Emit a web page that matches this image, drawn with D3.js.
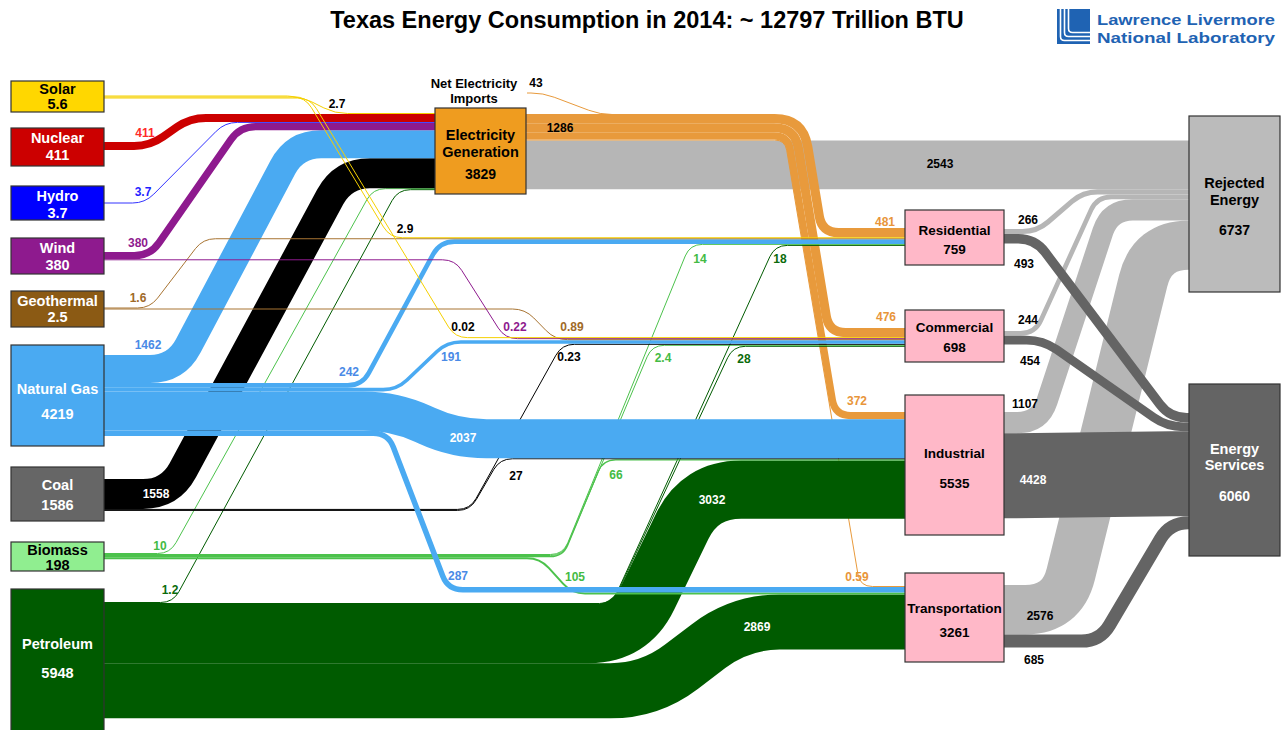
<!DOCTYPE html>
<html>
<head>
<meta charset="utf-8">
<script src="https://cdn.jsdelivr.net/npm/d3@7"></script>
<style>
body { margin: 0; background: #fff; }
text { font-family: Arial, "Liberation Sans", sans-serif; font-weight: bold; }
</style>
</head>
<body>
<svg id="chart" width="1286" height="730"></svg>
<script>
// ---- values, trillion BTU ----
var sources = ["Solar", "Nuclear", "Hydro", "Wind", "Geothermal", "Natural Gas", "Coal", "Biomass", "Petroleum"];
var sourceTotals = [5.6, 411, 3.7, 380, 2.5, 4219, 1586, 198, 5948];
var sectors = ["Residential", "Commercial", "Industrial", "Transportation"];
var sectorTotals = [759, 698, 5535, 3261];
var toElectricity = [2.7, 411, 3.7, 380, 0, 1462, 1558, 10, 1.2];
var toResidential = [2.9, 0, 0, 0, 1.6, 242, 0, 14, 18];
var toCommercial = [0.02, 0, 0, 0.22, 0.89, 191, 0.23, 2.4, 28];
var toIndustrial = [0, 0, 0, 0, 0, 2037, 27, 66, 3032];
var toTransportation = [0, 0, 0, 0, 0, 287, 0, 105, 2869];
var electricityTotal = 3829, electricityDelivered = 1286, netImports = 43;
var electricityToSectors = [481, 476, 372, 0.59];
var electricityRejected = 2543;
var sectorRejected = [266, 244, 1107, 2576];
var sectorServices = [493, 454, 4428, 685];
var rejectedTotal = 6737, servicesTotal = 6060;
var title = "Texas Energy Consumption in 2014: ~ 12797 Trillion BTU";

// ---- layout (hand placed like the LLNL charts) ----
var thick = d3.scaleLinear().domain([0, 1000]).range([0, 19.2]);
function band(v) { return Math.max(thick(v), 1); }

var srcX = 11, srcW = 93;
var srcTop = [81, 128, 186, 238, 291, 345, 467, 542, 589];
var srcH = [31, 38, 34, 36, 36, 101, 54, 29, 150];
var srcFlowTop = [95.5, 142, 202.5, 252, 307.5, 355, 479, 553, 602];
var srcTextY = [[89, 104], [138, 155], [196, 213], [248, 265], [301, 317], [389, 414], [485, 505], [550, 565], [644, 673]];
var srcFill = ["#ffd700", "#cc0000", "#0000ff", "#8e1a8e", "#8b5a14", "#4aaaf2", "#666666", "#90ee90", "#005b00"];
var srcFlow = ["#f5d000", "#cc0000", "#3333ff", "#8e1a8e", "#a87432", "#4aaaf2", "#000000", "#4cc24c", "#005b00"];
var srcText = ["#000", "#fff", "#fff", "#fff", "#fff", "#fff", "#fff", "#000", "#fff"];
var srcLabel = ["#000", "#ff2a2a", "#1f1fff", "#8e1a8e", "#a06a28", "#4a8ae6", "#000", "#44bb44", "#0b6b0b"];
var srcLayer = [11, 10, 9, 8, 7, 6, 5, 4, 3];

var elecBox = { x: 435, y: 108, w: 91, h: 86, inTop: 113, outTop: 114 };
var secX = 905, secW = 99;
var secTop = [210, 310, 395, 573], secH = [55, 52, 140, 89];
var secInTop = [228, 328, 412, 586], secOutTop = [229, 331, 412, 585];
var secTextY = [[230, 249], [327, 347], [453, 483], [608, 632]];
var rejBox = { x: 1189, y: 116, w: 91, h: 176 };
var servBox = { x: 1189, y: 384, w: 91, h: 172, inTop: 413 };

// bend x positions [leave horizontal, reach horizontal]
var routeToElec = [[300, 335], [150, 190], [145, 225], [150, 240], null, [176, 295], [170, 343], [170, 373], [173, 398]];
var routeToRes = [[305, 390], null, null, null, [150, 203], [362, 440], null, [563, 690], [612, 775]];
var routeToCom = [[310, 455], null, null, [455, 505], [525, 555], [397, 447], [470, 562], [563, 652], [612, 733]];
var routeToInd = [null, null, null, null, null, [395, 455], [470, 500], [563, 603], [630, 700]];
var routeToTrans = [null, null, null, null, null, [388, 448], null, [540, 572], [650, 740]];
var routeElecOut = [[803, 822], [795, 829], [788, 835], [785, 860]];
var routeRejected = [[1037, 1083], [1035, 1097], [1040, 1110], [1062, 1152]];
var routeServices = [[1035, 1170], [1043, 1167], [1010, 1180], [1100, 1170]];

var labElec = [[337, 104], [145, 133], [143, 192], [138, 243], null, [148, 345], [156, 494], [160, 546], [170, 590]];
var labRes = [[405, 229], null, null, null, [138, 298], [349, 372], null, [700, 259], [780, 259]];
var labCom = [[463, 327], null, null, [515, 327], [572, 327], [451, 357], [569, 357], [663, 358], [744, 359]];
var labInd = [null, null, null, null, null, [463, 438], [516, 476], [616, 475], [712, 500]];
var labTrans = [null, null, null, null, null, [458, 576], null, [575, 577], [757, 627]];
var labElecOut = [[885, 222], [886, 317], [857, 401], [857, 577]];
var labRej = [[1028, 220], [1028, 320], [1025, 404], [1040, 616]];
var labServ = [[1024, 264], [1030, 361], [1033, 480], [1034, 660]];

var elecFill = "#ef9c1f", elecFlow = "#e89a3c", elecLabel = "#e8953a";
var secFill = "#ffb8c8", rejFill = "#bbbbbb", rejFlow = "#b6b6b6", servFill = "#646464", servFlow = "#646464";

var svg = d3.select("#chart");
svg.append("rect").attr("width", 1286).attr("height", 730).attr("fill", "#fff");

// polyline with rounded corners; r is one radius or one per corner
function linkPath(pts, r) {
  var p = d3.path();
  p.moveTo(pts[0][0], pts[0][1]);
  for (var i = 1; i < pts.length - 1; i++) {
    var a = pts[i - 1], c = pts[i], b = pts[i + 1];
    var l1 = Math.hypot(c[0] - a[0], c[1] - a[1]);
    var l2 = Math.hypot(b[0] - c[0], b[1] - c[1]);
    if (l1 < 0.5 || l2 < 0.5) { p.lineTo(c[0], c[1]); continue; }
    var ri = Array.isArray(r) ? r[i - 1] : r;
    var rr = Math.min(ri, i === 1 ? l1 : l1 / 2, i === pts.length - 2 ? l2 : l2 / 2);
    p.lineTo(c[0] - (c[0] - a[0]) / l1 * rr, c[1] - (c[1] - a[1]) / l1 * rr);
    p.quadraticCurveTo(c[0], c[1], c[0] + (b[0] - c[0]) / l2 * rr, c[1] + (b[1] - c[1]) / l2 * rr);
  }
  var e = pts[pts.length - 1];
  p.lineTo(e[0], e[1]);
  return p.toString();
}

var links = [];
function addLink(layer, value, color, x0, y0, x1, y1, route, lab, labColor, radii) {
  var pts = [[x0, y0], [route[0], y0], [route[1], y1], [x1, y1]];
  var t = band(value);
  links.push({ layer: layer, value: value, color: color, pts: pts, lab: lab, labColor: labColor, t: t,
    r: radii || t / 2 + 12 });
}

// stacking at the source side
var matrix = [toElectricity, toResidential, toCommercial, toIndustrial, toTransportation];
var routes = [routeToElec, routeToRes, routeToCom, routeToInd, routeToTrans];
var labs = [labElec, labRes, labCom, labInd, labTrans];
var srcY = matrix.map(function () { return []; });
var dstY = matrix.map(function () { return []; });
sources.forEach(function (s, i) {
  var c = srcFlowTop[i];
  matrix.forEach(function (row, d) {
    if (row[i] > 0) { var t = band(row[i]); srcY[d][i] = c + t / 2; c += t; }
  });
});
var ce = elecBox.inTop;
sources.forEach(function (s, i) {
  if (toElectricity[i] > 0) { var t = band(toElectricity[i]); dstY[0][i] = ce + t / 2; ce += t; }
});
var elecOutY = [], co = elecBox.outTop;
electricityToSectors.forEach(function (v, j) { var t = band(v); elecOutY[j] = co + t / 2; co += t; });
var rejTop = co;
var elecRejY = co + band(electricityRejected) / 2;
var elecInY = [];
sectors.forEach(function (s, j) {
  var c = secInTop[j];
  var t = band(electricityToSectors[j]); elecInY[j] = c + t / 2; c += t;
  sources.forEach(function (s2, i) {
    var v = matrix[j + 1][i];
    if (v > 0) { var t2 = band(v); dstY[j + 1][i] = c + t2 / 2; c += t2; }
  });
});
var rejOutY = [], servOutY = [], rejInY = [], servInY = [];
var cr = rejTop + band(electricityRejected), cs = servBox.inTop;
sectors.forEach(function (s, j) {
  var t1 = band(sectorRejected[j]), t2 = band(sectorServices[j]);
  rejOutY[j] = secOutTop[j] + t1 / 2;
  servOutY[j] = secOutTop[j] + t1 + t2 / 2;
  rejInY[j] = cr + t1 / 2; cr += t1;
  servInY[j] = cs + t2 / 2; cs += t2;
});

// electricity generation outputs
var ex = elecBox.x + elecBox.w;
addLink(0, electricityRejected, rejFlow, ex, elecRejY, rejBox.x, elecRejY, [700, 700], [940, 164], "#000");
electricityToSectors.forEach(function (v, j) {
  // nested first bend: outer bands get a wider radius so the bundle stays together
  var offset = rejTop - elecOutY[j];
  var t = band(v);
  addLink(1, v, elecFlow, ex, elecOutY[j], secX, elecInY[j], routeElecOut[j], labElecOut[j], elecLabel,
    [10 + 0.84 * offset, t / 2 + 12]);
});
// sources into electricity and end-use sectors
matrix.forEach(function (row, d) {
  row.forEach(function (v, i) {
    if (!(v > 0)) return;
    var x1 = d === 0 ? elecBox.x : secX;
    addLink(srcLayer[i], v, srcFlow[i], srcX + srcW, srcY[d][i], x1, dstY[d][i], routes[d][i], labs[d][i], srcLabel[i]);
  });
});
// end-use sectors out
sectors.forEach(function (s, j) {
  addLink(12, sectorRejected[j], rejFlow, secX + secW, rejOutY[j], rejBox.x, rejInY[j], routeRejected[j], labRej[j], "#000");
  addLink(13, sectorServices[j], servFlow, secX + secW, servOutY[j], servBox.x, servInY[j], routeServices[j], labServ[j], "#000");
});

links.sort(function (a, b) { return a.layer - b.layer; });

svg.append("g").selectAll("path").data(links).enter().append("path")
  .attr("d", function (d) { return linkPath(d.pts, d.r); })
  .attr("fill", "none")
  .attr("stroke", function (d) { return d.color; })
  .attr("stroke-width", function (d) { return d.t; });

// net electricity imports joining the delivered electricity
var impY = elecBox.outTop + 0.5;
svg.append("path")
  .attr("d", linkPath([[527, 93], [543, 93], [600, impY], [640, impY]], 12))
  .attr("fill", "none").attr("stroke", elecFlow).attr("stroke-width", band(netImports));

// boxes
function box(x, y, w, h, fill) {
  svg.append("rect").attr("x", x).attr("y", y).attr("width", w).attr("height", h)
    .attr("fill", fill).attr("stroke", "#333").attr("stroke-width", 1.2);
}
function label(x, y, str, size, color) {
  svg.append("text").attr("x", x).attr("y", y).attr("text-anchor", "middle")
    .attr("dominant-baseline", "central").attr("font-size", size).attr("fill", color).text(str);
}

sources.forEach(function (s, i) {
  box(srcX, srcTop[i], srcW, srcH[i], srcFill[i]);
  label(srcX + srcW / 2, srcTextY[i][0], s, 14.5, srcText[i]);
  label(srcX + srcW / 2, srcTextY[i][1], String(sourceTotals[i]), 14.5, srcText[i]);
});
box(elecBox.x, elecBox.y, elecBox.w, elecBox.h, elecFill);
label(elecBox.x + elecBox.w / 2, 135, "Electricity", 14.5, "#000");
label(elecBox.x + elecBox.w / 2, 152, "Generation", 14.5, "#000");
label(elecBox.x + elecBox.w / 2, 174, String(electricityTotal), 14, "#000");
sectors.forEach(function (s, j) {
  box(secX, secTop[j], secW, secH[j], secFill);
  label(secX + secW / 2, secTextY[j][0], s, 13.5, "#000");
  label(secX + secW / 2, secTextY[j][1], String(sectorTotals[j]), 13.5, "#000");
});
box(rejBox.x, rejBox.y, rejBox.w, rejBox.h, rejFill);
label(rejBox.x + rejBox.w / 2, 183, "Rejected", 14.5, "#000");
label(rejBox.x + rejBox.w / 2, 200, "Energy", 14.5, "#000");
label(rejBox.x + rejBox.w / 2, 230, String(rejectedTotal), 14, "#000");
box(servBox.x, servBox.y, servBox.w, servBox.h, servFill);
label(servBox.x + servBox.w / 2, 449, "Energy", 14.5, "#fff");
label(servBox.x + servBox.w / 2, 465, "Services", 14.5, "#fff");
label(servBox.x + servBox.w / 2, 496, String(servicesTotal), 14, "#fff");

// flow value labels: white when sitting inside a coloured band
function bandYAt(d, x) {
  var p = d.pts;
  if (x <= p[1][0]) return p[0][1];
  if (x >= p[2][0]) return p[3][1];
  return p[1][1] + (p[2][1] - p[1][1]) * (x - p[1][0]) / (p[2][0] - p[1][0]);
}
links.forEach(function (d) {
  if (!d.lab) return;
  var inside = Math.abs(d.lab[1] - bandYAt(d, d.lab[0])) < d.t / 2 && d.color !== rejFlow;
  label(d.lab[0], d.lab[1], String(d.value), 12, inside ? "#fff" : d.labColor);
});
label(560, 128, String(electricityDelivered), 12, "#000");
label(474, 83, "Net Electricity", 13, "#000");
label(474, 98, "Imports", 13, "#000");
label(536, 83, String(netImports), 12, "#000");

// title
label(647, 20, title, 23.5, "#000");

// LLNL logo
var blue = "#1f63b3";
var logo = svg.append("g").attr("transform", "translate(1057,9)");
logo.append("rect").attr("width", 33).attr("height", 35).attr("fill", blue);
[3.5, 7.5, 11.5].forEach(function (o) {
  logo.append("path")
    .attr("d", linkPath([[o, 0], [o, 35 - o], [33, 35 - o]], 4))
    .attr("fill", "none").attr("stroke", "#fff").attr("stroke-width", 1.6);
});
svg.append("text").attr("x", 1097).attr("y", 25).attr("font-size", 15.5).attr("fill", blue)
  .attr("textLength", 178).attr("lengthAdjust", "spacingAndGlyphs").text("Lawrence Livermore");
svg.append("text").attr("x", 1097).attr("y", 43).attr("font-size", 15.5).attr("fill", blue)
  .attr("textLength", 178).attr("lengthAdjust", "spacingAndGlyphs").text("National Laboratory");
</script>
</body>
</html>
